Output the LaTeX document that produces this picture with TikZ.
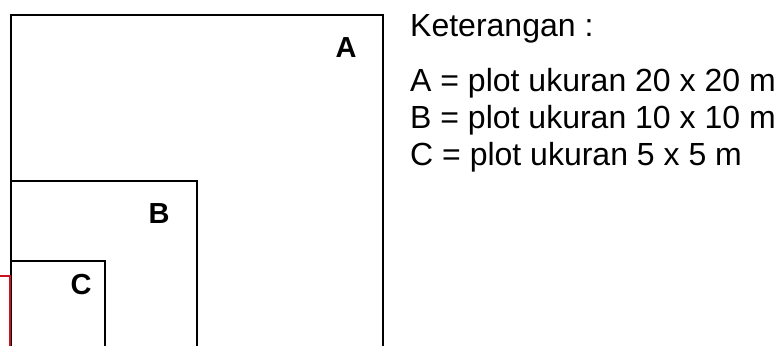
\documentclass[tikz,border=0pt]{standalone}
\usepackage{fontspec}
\setmainfont{Liberation Sans}
\definecolor{plotred}{RGB}{204,16,32}
\begin{document}
\begin{tikzpicture}[x=1pt,y=-1pt,
  plotline/.style={line width=1.5pt, draw=black},
  redline/.style={line width=2pt, draw=plotred},
  plotlabel/.style={font=\fontsize{29}{29}\selectfont\bfseries, inner sep=0pt, anchor=base},
  legend/.style={font=\fontsize{32}{32}\selectfont, inner sep=0pt, anchor=base west}]
\useasboundingbox (0,0) rectangle (778,345);
% plot outlines (open at bottom edge)
\coordinate (a1) at (11,346); \coordinate (a2) at (11,15); \coordinate (a3) at (383,15); \coordinate (a4) at (383,346);
\draw[plotline] (a1) -- (a2) -- (a3) -- (a4);
\coordinate (b1) at (11,181); \coordinate (b2) at (197,181); \coordinate (b3) at (197,346);
\draw[plotline] (b1) -- (b2) -- (b3);
\coordinate (c1) at (11,261); \coordinate (c2) at (105,261); \coordinate (c3) at (105,346);
\draw[plotline] (c1) -- (c2) -- (c3);
\coordinate (r1) at (-2,276); \coordinate (r2) at (10,276); \coordinate (r3) at (10,346);
\draw[redline] (r1) -- (r2) -- (r3);
% labels
\node[plotlabel] (la) at (346,57) {A};
\node[plotlabel] (lb) at (159,223) {B};
\node[plotlabel] (lc) at (81,294) {C};
% legend
\node[legend] (k) at (410,37) {Keterangan :};
\node[legend] (ka) at (410,91) {A = plot ukuran 20 x 20 m};
\node[legend] (kb) at (410,128) {B = plot ukuran 10 x 10 m};
\node[legend] (kc) at (410,165) {C = plot ukuran 5 x 5 m};
\end{tikzpicture}
\end{document}
